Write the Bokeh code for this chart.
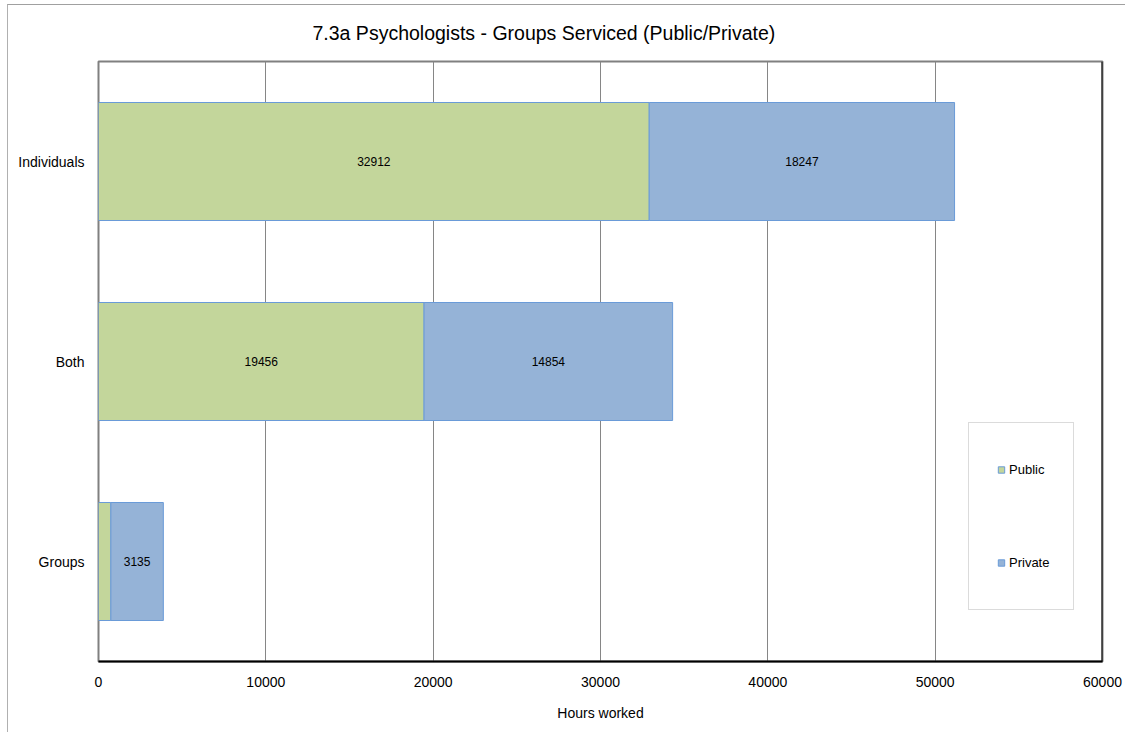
from bokeh.plotting import figure
from bokeh.models import (FactorRange, Range1d, FixedTicker, Legend, LegendItem,
                          Span, ColumnDataSource, Title)
from bokeh.embed import file_html
from bokeh.resources import INLINE
from bokeh.core.properties import value

# ---- data ----
categories = ["Individuals", "Both", "Groups"]
public = [32912, 19456, 740]
private = [18247, 14854, 3135]
x_ticks = [0, 10000, 20000, 30000, 40000, 50000, 60000]
series_names = ["Public", "Private"]
title_text = "7.3a Psychologists - Groups Serviced (Public/Private)"
x_label = "Hours worked"
# which segment labels are shown in the reference (Groups/Public is hidden)
show_public_label = [True, True, False]
show_private_label = [True, True, True]

FONT = "Liberation Sans"
GREEN = "#C3D69B"
BLUE = "#95B3D7"
EDGE = "#6A9BD8"

p = figure(width=1118, height=728,
           y_range=FactorRange(factors=categories[::-1]),
           x_range=Range1d(0, 60000),
           output_backend="svg", toolbar_location=None,
           min_border_left=90, min_border_right=24,
           min_border_top=56, min_border_bottom=72,
           background_fill_color="white", border_fill_color="white",
           styles={"margin-left": "7px", "margin-top": "4px",
                   "border-top": "1px solid #a0a0a0",
                   "border-left": "1px solid #b0b0b0"})

p.title = Title(text=title_text, align="left", offset=214,
                text_font=FONT, text_font_size="19.5px",
                text_font_style="normal", text_color="black", standoff=31,
                vertical_align="top")

total = [a + b for a, b in zip(public, private)]
src = ColumnDataSource(dict(cat=categories, public=public, private=private,
                            total=total))

r_pub = p.hbar(y="cat", left=0, right="public", height=0.59, source=src,
               fill_color=GREEN, line_color=EDGE, line_width=1)
r_priv = p.hbar(y="cat", left="public", right="total", height=0.59, source=src,
                fill_color=BLUE, line_color=EDGE, line_width=1)

# data labels
lx, ly, lt = [], [], []
for c, a, b, sa, sb in zip(categories, public, private,
                           show_public_label, show_private_label):
    if sa:
        lx.append(a / 2); ly.append(c); lt.append(str(a))
    if sb:
        lx.append(a + b / 2); ly.append(c); lt.append(str(b))
p.text(x=lx, y=ly, text=lt, text_align="center", text_baseline="middle",
       text_font=value(FONT), text_font_size="12px", text_color="black")

# grid
p.xgrid.grid_line_color = "#868686"
p.xgrid.grid_line_width = 1
p.ygrid.grid_line_color = None

# x axis
p.xaxis.ticker = FixedTicker(ticks=x_ticks)
p.xaxis.major_tick_out = 0
p.xaxis.major_tick_in = 0
p.xaxis.minor_tick_out = 0
p.xaxis.minor_tick_in = 0
p.xaxis.axis_line_color = "black"
p.xaxis.axis_line_width = 2
p.xaxis.major_label_standoff = 15
p.xaxis.major_label_text_font = FONT
p.xaxis.major_label_text_font_size = "14px"
p.xaxis.major_label_text_color = "black"
p.xaxis.axis_label = x_label
p.xaxis.axis_label_text_font = FONT
p.xaxis.axis_label_text_font_size = "14px"
p.xaxis.axis_label_text_font_style = "normal"
p.xaxis.axis_label_text_color = "black"
p.xaxis.axis_label_standoff = 15

# y axis
p.yaxis.axis_line_color = None
p.yaxis.major_tick_out = 0
p.yaxis.major_tick_in = 0
p.yaxis.major_label_standoff = 14
p.yaxis.major_label_text_font = FONT
p.yaxis.major_label_text_font_size = "14px"
p.yaxis.major_label_text_color = "black"

p.outline_line_color = "#808080"
p.outline_line_width = 2

p.add_layout(Span(location=x_ticks[-1], dimension="height",
                  line_color="black", line_width=2))

# legend (hidden marker proxies on the real data, shown only as legend swatches)
lg_pub = p.scatter(x="public", y="cat", source=src, marker="square",
                   fill_color=GREEN, line_color=EDGE, line_width=1,
                   visible=False)
lg_priv = p.scatter(x="total", y="cat", source=src, marker="square",
                    fill_color=BLUE, line_color=EDGE, line_width=1,
                    visible=False)
legend = Legend(items=[LegendItem(label=series_names[0], renderers=[lg_pub]),
                       LegendItem(label=series_names[1], renderers=[lg_priv])],
                location=(870, 51), orientation="vertical",
                padding=24, spacing=48, margin=0,
                glyph_width=16, glyph_height=45, label_height=45,
                label_standoff=0,
                label_text_font=FONT, label_text_font_size="13px",
                label_text_color="black",
                inactive_fill_alpha=0,
                border_line_color="#b8b8b8", border_line_width=1,
                background_fill_color="white", background_fill_alpha=1)
p.add_layout(legend)

open("out.html", "w").write(file_html(p, INLINE))
